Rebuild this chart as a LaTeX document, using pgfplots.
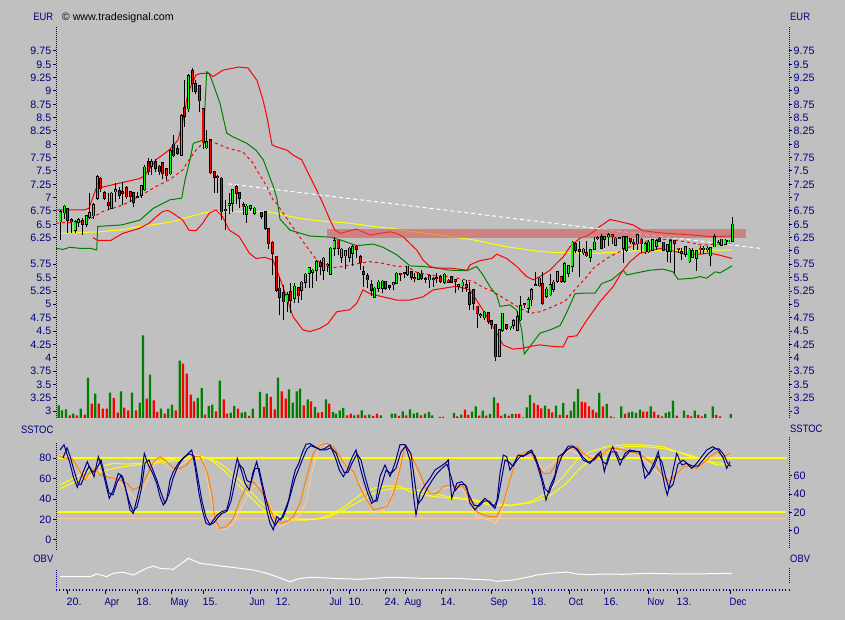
\documentclass[border=0pt]{standalone}
\usepackage{pgfplots}
\usepackage{pgfplotstable}
\pgfplotsset{compat=1.18}
\usepackage{fontspec}
\setmainfont{Liberation Sans}
\newfontfamily\nf[FakeStretch=0.88]{Liberation Sans}
\newcommand\fs{\fontsize{10.7}{12}\selectfont}
\definecolor{navy}{RGB}{0,0,128}
\definecolor{bg}{RGB}{192,192,192}
\definecolor{clime}{RGB}{0,255,0}
\definecolor{dgreen}{RGB}{0,128,0}
\definecolor{pred}{RGB}{255,0,0}
\definecolor{dorange}{RGB}{255,128,0}
\definecolor{peach}{RGB}{255,200,150}
\definecolor{pinkzone}{RGB}{220,80,80}
\definecolor{yel}{RGB}{255,255,0}

\pgfplotstableread{
x o h l c
60 6.55 6.76 6.20 6.74
64.3 6.72 6.86 6.60 6.84
75 6.39 6.59 6.33 6.55
78.3 6.54 6.62 6.45 6.59
86.3 6.50 6.68 6.45 6.66
89.3 6.64 7.09 6.60 6.72
93.3 6.66 6.90 6.60 6.87
97.3 6.99 7.42 6.96 7.39
111.3 6.80 7.10 6.78 7.08
115.3 7.11 7.27 6.92 7.15
141.3 7.05 7.24 7.00 7.22
144.3 7.15 7.62 7.12 7.57
151.7 7.59 7.72 7.43 7.67
170.3 7.45 7.92 7.42 7.88
181.3 7.80 8.57 7.78 8.53
188.3 8.67 9.32 8.60 9.28
206.3 7.94 8.26 7.92 8.04
229 6.86 7.08 6.70 6.89
232.7 6.90 7.17 6.74 7.15
246.3 6.69 6.89 6.52 6.84
250.3 6.80 6.87 6.75 6.85
254.3 6.71 6.82 6.68 6.80
287 5.05 5.24 4.86 5.18
294.3 5.11 5.40 5.02 5.34
301.3 5.27 5.43 5.08 5.41
305.3 5.41 5.58 5.30 5.56
309 5.58 5.69 5.31 5.68
312.7 5.60 5.67 5.30 5.64
316.3 5.64 5.83 5.43 5.80
323.3 5.64 5.89 5.46 5.86
330.3 5.56 6.07 5.55 6.05
334 6.05 6.27 5.90 6.19
341.3 5.89 6.05 5.77 6.03
345.3 5.91 6.01 5.66 6.00
349.3 5.89 6.07 5.80 6.05
352.7 5.96 6.11 5.72 6.08
374.3 5.14 5.33 5.11 5.30
378.3 5.30 5.46 5.24 5.41
382.3 5.30 5.46 5.22 5.43
393.3 5.38 5.42 5.27 5.40
396.7 5.40 5.60 5.38 5.58
407.3 5.56 5.72 5.53 5.71
418.3 5.47 5.61 5.46 5.58
429.3 5.46 5.55 5.30 5.53
444.3 5.41 5.59 5.38 5.56
458.3 5.34 5.38 5.26 5.37
462 5.35 5.46 5.24 5.41
480.7 4.79 4.84 4.74 4.80
484.3 4.75 4.87 4.71 4.85
499.3 4.03 4.53 4.02 4.52
502.3 4.52 4.84 4.49 4.83
510 4.56 4.60 4.51 4.59
513.3 4.61 4.72 4.53 4.69
517.3 4.52 4.88 4.51 4.76
520.3 4.71 5.16 4.69 4.97
528 4.93 5.14 4.83 5.09
531.3 5.09 5.30 4.96 5.27
539.3 5.35 5.51 5.33 5.49
546.3 5.16 5.32 5.11 5.28
550 5.18 5.57 5.15 5.36
553.7 5.28 5.46 5.24 5.41
557.3 5.43 5.63 5.40 5.61
564.7 5.43 5.80 5.40 5.76
568.3 5.59 5.74 5.52 5.72
572 5.71 6.18 5.60 6.16
583.3 5.97 6.06 5.93 6.03
590.3 5.89 6.03 5.80 6.02
594.3 6.03 6.26 6.02 6.16
597.7 6.23 6.28 6.21 6.25
604.7 6.22 6.28 6.05 6.26
608.3 6.27 6.33 6.09 6.30
615.3 6.11 6.27 6.09 6.24
623.3 6.05 6.28 5.77 6.26
626.7 6.01 6.27 5.99 6.26
637.3 6.14 6.31 6.01 6.30
645 5.99 6.17 5.94 6.13
648.7 5.99 6.21 5.96 6.16
652.3 6.02 6.22 6.01 6.21
656.3 6.09 6.22 6.02 6.19
667.3 6.00 6.14 5.80 6.11
670.3 6.00 6.19 5.77 6.19
681.7 5.96 6.05 5.83 5.99
685.3 5.94 6.09 5.88 6.08
689 5.80 6.05 5.78 6.03
692.7 5.89 6.05 5.86 6.00
696.3 5.86 6.02 5.63 6.00
707.3 6.03 6.10 5.98 6.05
710.7 5.91 6.08 5.72 6.06
714.3 6.08 6.32 6.07 6.27
718 6.13 6.20 6.11 6.15
721.3 6.11 6.23 6.10 6.22
725 6.13 6.22 6.12 6.20
728.7 6.19 6.21 6.17 6.20
732.3 6.19 6.64 6.17 6.50
}\upc

\pgfplotstableread{
x o h l c
67.7 6.79 6.80 6.34 6.58
71.3 6.59 6.61 6.34 6.55
82.3 6.56 6.61 6.30 6.50
100.3 7.36 7.38 7.10 7.17
104.3 7.09 7.12 6.95 6.99
108.3 6.91 7.08 6.77 6.86
119.3 7.13 7.20 6.98 7.05
122.7 7.11 7.30 6.86 7.09
126.3 7.19 7.22 6.98 7.02
130.3 7.11 7.13 6.92 7.02
133.7 7.09 7.11 6.83 6.92
137.3 7.02 7.11 7.00 7.00
148.3 7.67 7.74 7.42 7.49
155.3 7.67 7.72 7.49 7.55
159.3 7.59 7.62 7.42 7.49
162.7 7.65 7.66 7.35 7.45
166.3 7.54 7.55 7.33 7.41
173.3 8.00 8.17 7.77 7.79
177.3 7.91 7.99 7.80 7.83
184.7 8.69 9.20 8.33 8.53
192.3 9.38 9.44 8.99 9.14
195.3 9.14 9.20 8.95 9.00
199.3 9.09 9.11 8.61 8.82
203 8.66 8.68 7.92 8.03
210.3 8.09 8.10 7.45 7.47
214.3 7.49 7.49 7.09 7.39
217.7 7.40 7.42 7.08 7.38
221.7 7.36 7.38 6.59 6.74
225.3 6.78 6.95 6.39 6.76
236.3 7.20 7.24 6.89 7.08
239.7 7.09 7.11 6.80 6.99
243 6.86 6.92 6.67 6.83
261.7 6.72 6.74 6.60 6.65
265.3 6.74 6.75 6.40 6.43
268.3 6.41 6.43 6.03 6.14
272.3 6.16 6.18 5.55 5.96
276.3 5.90 5.90 5.24 5.27
279.3 5.30 5.52 4.80 5.13
283.3 5.22 5.36 4.71 5.05
290.7 5.24 5.40 4.83 5.08
298.3 5.31 5.31 5.02 5.16
320.3 5.78 5.84 5.55 5.72
327 5.75 5.78 5.60 5.73
338 6.20 6.21 5.93 6.05
356.7 6.09 6.11 5.86 6.03
360.3 5.89 5.92 5.64 5.78
363.7 5.61 5.72 5.33 5.56
367.3 5.53 5.58 5.30 5.46
371.3 5.36 5.46 5.15 5.27
385.3 5.43 5.44 5.27 5.30
389.3 5.35 5.36 5.27 5.32
400.7 5.58 5.58 5.44 5.57
404.3 5.59 5.60 5.50 5.58
411.3 5.61 5.61 5.46 5.51
414.7 5.50 5.59 5.41 5.48
421.7 5.56 5.64 5.46 5.49
425.7 5.48 5.52 5.40 5.47
433.3 5.49 5.52 5.33 5.47
436.7 5.50 5.58 5.40 5.49
440.3 5.52 5.55 5.40 5.43
448 5.45 5.47 5.40 5.42
451.7 5.51 5.51 5.40 5.42
455 5.46 5.47 5.22 5.44
466 5.37 5.46 5.24 5.32
469.3 5.22 5.42 4.89 5.01
473.3 5.27 5.28 4.89 5.02
477 4.96 4.97 4.55 4.83
488.3 4.84 4.86 4.63 4.69
491.7 4.69 4.69 4.53 4.63
495.3 4.62 4.63 3.94 4.02
506.3 4.61 4.64 4.52 4.55
524.3 5.01 5.03 4.93 5.00
535.3 5.36 5.61 5.34 5.35
542.3 5.39 5.61 4.99 5.02
561 5.52 5.52 5.40 5.43
575.3 6.14 6.17 5.96 6.02
579.3 6.02 6.18 5.51 6.00
586.7 5.97 6.18 5.89 5.91
601.3 6.26 6.31 6.03 6.05
612 6.30 6.32 6.14 6.27
619.3 6.25 6.27 6.23 6.24
630.3 6.24 6.24 6.14 6.19
633.7 6.16 6.22 6.01 6.14
641 6.22 6.24 5.96 6.14
659.7 6.24 6.26 6.17 6.19
663.3 6.16 6.17 6.00 6.02
674.3 6.19 6.20 5.59 6.14
678 6.05 6.05 5.96 6.03
700 6.05 6.09 5.94 6.03
703.7 6.05 6.09 5.94 6.03
}\dnc

\pgfplotstableread{
x v
58.7 12.7
62 7.7
66 8.7
73.3 4.3
80.7 9.3
88 40.3
95.3 24.3
110 25.3
121 26.7
132 25.3
139.7 15.3
143 82.7
150 43.3
161 9.3
168.3 9.3
172 13.3
179.7 57.3
197.7 20
201.7 30
208.7 12
212.3 13.3
219.7 37.3
230.7 5.3
234.3 12
241.7 5.3
245.3 6
252.7 9.3
260 26
266.7 24.3
278 40.3
289 28.7
292.7 15.3
296.7 26.7
300 29.3
307.7 18.7
315 11
326 18.7
333 6
336 4.3
339.7 7.7
343.3 10
354.3 2.7
361.7 7.7
369.3 3.3
380.7 2.7
391.7 4.3
395.3 4.3
402.7 6.7
410 8.7
413.7 4.3
417.3 5.3
425 4.3
429 6
432.3 2.7
454 5
461.3 3.3
472 6.3
475.7 11.7
482.7 7.3
490 4
494 20.7
505 4
512.3 4
523.3 0.7
526.7 10.7
530 23
545 12.3
556 12.3
563.3 15
570.7 7.3
574.3 16.3
578 29
599.3 25
606.7 14
621.3 11.7
628.7 5.7
632.3 6.3
636 5
640 8.3
650.7 11.7
665.7 5
669.3 6.3
673 17.3
684 7.3
694.7 7.3
705.3 4
712.7 11.7
730.7 4
}\vup

\pgfplotstableread{
x v
69.7 2.7
76.7 2.7
84.7 3.3
91.7 14.3
98.7 14.3
102.7 9.3
106.7 9.3
113.7 20
117.7 5.3
124.3 10.3
128.3 7.7
136 7.7
146.7 19.3
153.7 17.7
157.3 6
164.7 4.3
175.7 7.7
183 54.3
186.7 44.3
190.7 23.3
194 16.7
205 3.3
216 6.7
223.7 18.7
227 4.3
238 9.3
249 2
264 11
270.7 21
274.7 8.7
281.7 26.7
285.7 19.3
303.7 12.7
311 16.7
318.3 5.3
322 6
329.3 14.3
347.3 2.7
350.7 4.3
358.3 3.3
365.3 2.7
373.3 2
377 4.3
399 2
406.3 2.7
421 2.7
440 1
443.3 1
457.3 1.7
465 8.3
468.3 3
479.3 2.3
486.3 2.3
497.7 15
501.3 2.3
508.7 2.3
516 4
519.3 4
534 15
537.7 13
541.3 9.7
548.7 9
552.3 5.7
559.7 3
567 3
581.7 16.3
585.3 15.7
589 11.7
592.7 8.3
596.3 5.7
603 11.7
610.7 1.7
614 0.7
625 4
643.3 6.3
647 6.3
654.3 6.3
658.3 3
662 1.7
676.7 2.3
687.7 3
691 1.7
698.3 3
701.7 1.7
716.3 3
720 1.7
}\vdn

\pgfplotsset{
  panel/.style={scale only axis, width=733pt, xmin=56, xmax=789, anchor=south west,
    axis x line=none, xtick=\empty,
    y axis line style={draw=navy, line width=1pt, dash pattern=on 1pt off 1pt, -},
    major tick length=3pt, tick align=outside,
    ytick style={draw=navy, line width=1pt, solid},
    yticklabel style={font=\fs, text=navy, inner xsep=1.5pt},
    /pgf/number format/assume math mode=true,
    minor tick num=0},
  wick/.style={draw=none, mark=none, forget plot,
    error bars/.cd, y dir=both, y explicit, error mark=none,
    error bar style={draw=black, line width=0.9pt, solid}},
  body/.style 2 args={draw=none, mark=none, forget plot,
    error bars/.cd, y dir=both, y explicit, error mark=none,
    error bar style={draw=#1, line width=#2, solid}},
}

\begin{document}
\begin{tikzpicture}
\fill[bg] (0,0) rectangle (845pt,620pt);

% volume
\begin{axis}[panel, hide axis, at={(56pt,202pt)}, height=391pt, ymin=0, ymax=391]
\addplot[ybar, bar width=2.3pt, bar shift=0pt, fill=dgreen, draw=none] table[x=x,y=v] {\vup};
\addplot[ybar, bar width=2.3pt, bar shift=0pt, fill=pred, draw=none] table[x=x,y=v] {\vdn};
\end{axis}

% price (left scale)
\begin{axis}[panel, at={(56pt,202pt)}, height=391pt, ymin=2.869, ymax=10.2,
  axis y line*=left,
  ytick={3,3.25,3.5,3.75,4,4.25,4.5,4.75,5,5.25,5.5,5.75,6.25,6.5,6.75,7,7.25,7.5,7.75,8,8.25,8.5,8.75,9,9.25,9.5,9.75}]
\addplot[yel, line width=1pt] coordinates {(59,6.33)(99,6.36)(122.7,6.40)(139,6.46)(156,6.50)(172.7,6.55)(189,6.64)(202.7,6.71)(212.7,6.74)(256,6.74)(266.7,6.74)(283,6.68)(300,6.61)(316.7,6.57)(350,6.52)(383,6.44)(390,6.43)(410,6.37)(440,6.30)(473,6.21)(506.7,6.08)(540,5.99)(556.7,5.97)(600,5.96)(631.7,6.00)(732,6.02)};
\addplot[dgreen, line width=1pt] coordinates {(56,6.05)(63,6.03)(70,6.07)(80,6.05)(90,6.05)(96.7,6.02)(97.7,6.46)(122,6.49)(140,6.58)(153.3,6.80)(170,6.96)(181.7,6.99)(185,7.33)(190,7.71)(193.3,8.02)(203.3,8.08)(206.7,9.36)(209,9.33)(211.7,9.21)(220,8.77)(226.7,8.21)(233,8.14)(246.7,8.02)(256,7.89)(263.3,7.71)(273.3,7.21)(276.7,7.0)(280,6.6)(290,6.39)(310,6.28)(330,6.26)(340,6.21)(356.7,6.10)(373,6.13)(383,6.07)(396.7,5.93)(410,5.72)(423,5.71)(436.7,5.68)(450,5.64)(467,5.63)(476.7,5.71)(483,5.55)(490,5.33)(496.7,5.17)(500,4.96)(503,4.97)(510,4.99)(516.7,4.89)(521.7,4.52)(524.3,4.07)(530,4.21)(540,4.46)(550,4.52)(560,4.60)(567,4.86)(575,5.2)(585,5.21)(595,5.21)(601.7,5.39)(611.7,5.46)(623.3,5.64)(626.7,5.55)(636.7,5.59)(650,5.64)(663,5.66)(673,5.61)(678,5.47)(693,5.49)(700,5.52)(706.7,5.49)(715,5.61)(720,5.59)(732,5.72)};
\addplot[pred, line width=1pt] coordinates {(56,6.77)(84,6.77)(89,6.80)(96,7.17)(103,7.20)(140,7.36)(145,7.42)(156,7.71)(169,7.89)(178,8.08)(183,8.45)(188,8.96)(196,9.30)(201,9.33)(209,9.33)(213,9.27)(223,9.39)(239,9.45)(248,9.43)(257,9.20)(263,8.83)(267,8.51)(272,7.99)(277,7.95)(287,7.89)(293,7.80)(301.7,7.71)(310,7.39)(316.7,7.14)(323,6.89)(330,6.58)(335,6.39)(340,6.33)(350,6.38)(356.7,6.41)(363,6.36)(370,6.30)(376.7,6.32)(383,6.34)(390,6.36)(396.7,6.33)(403,6.27)(410,6.14)(416.7,6.02)(423,5.83)(430,5.71)(436.7,5.68)(450,5.68)(467,5.64)(470,5.74)(480,5.82)(491.7,5.86)(496.7,5.94)(506.7,5.86)(516.7,5.71)(526.7,5.52)(533.3,5.46)(540,5.52)(550,5.64)(556.7,5.77)(563.3,5.89)(570,6.08)(580,6.24)(586.7,6.28)(593.3,6.36)(600,6.46)(610,6.59)(620,6.55)(633,6.49)(643,6.38)(660,6.34)(677,6.32)(693,6.30)(710,6.27)(732,6.28)};
\addplot[pred, line width=1pt] coordinates {(93,6.25)(97.7,6.20)(111,6.20)(122.7,6.33)(139,6.42)(149,6.52)(156,6.64)(162.7,6.74)(167.7,6.76)(172.7,6.71)(182.7,6.58)(189,6.39)(196,6.38)(202.7,6.52)(209.3,6.71)(216,6.77)(222.7,6.64)(229.3,6.39)(239.3,6.27)(249.3,5.96)(256,5.86)(265,5.88)(273,5.83)(283,5.33)(293,4.77)(303,4.52)(310,4.49)(320,4.55)(328,4.64)(336.7,4.86)(350,4.90)(356.7,5.02)(363,5.27)(370,5.20)(383,5.14)(396.7,5.08)(410,5.08)(423,5.14)(433,5.27)(443,5.30)(456.7,5.34)(470,5.27)(483,4.89)(496.7,4.46)(503,4.24)(513,4.16)(523,4.18)(530,4.21)(540,4.24)(553,4.21)(563,4.20)(568,4.39)(576.7,4.41)(586.7,4.70)(600,5.05)(613,5.33)(623,5.64)(630,5.80)(640,5.96)(650,6.00)(660,6.05)(673,6.00)(687,5.94)(700,5.94)(710,5.96)(720,5.92)(732,5.86)};
\addplot[pred, line width=1pt, dash pattern=on 3pt off 3pt] coordinates {(56,6.52)(63,6.53)(76,6.53)(89,6.59)(102.7,6.74)(122.7,6.86)(139,7.02)(156,7.21)(169,7.33)(182.7,7.52)(189,7.71)(196,7.89)(202.7,8.02)(209,8.05)(216,8.02)(229,7.92)(242.7,7.86)(253,7.65)(256.7,7.52)(263,7.33)(266.7,7.21)(273,6.96)(276.7,6.89)(290,6.52)(306.7,6.08)(316.7,5.83)(330,5.68)(343,5.71)(356.7,5.76)(370,5.80)(383,5.77)(396.7,5.71)(406.7,5.71)(416.7,5.60)(436.7,5.53)(450,5.52)(463,5.47)(473,5.43)(483,5.32)(493,5.24)(506.7,5.08)(520,4.93)(530,4.83)(540,4.86)(553,4.96)(565,5.06)(578,5.34)(587,5.52)(593,5.67)(600,5.77)(606.7,5.86)(623,6.02)(637,6.14)(650,6.20)(670,6.22)(687,6.17)(703,6.11)(720,6.14)(732,6.13)};
\addplot[white, line width=1pt, dash pattern=on 4pt off 3pt] coordinates {(228,7.26)(760,6.05)};
\addplot[draw=none, fill=pinkzone, fill opacity=0.55] coordinates {(327,6.25)(746,6.25)(746,6.41)(327,6.41)} -- cycle;
\addplot[wick] table[x=x, y expr={(\thisrow{h}+\thisrow{l})/2}, y error expr={(\thisrow{h}-\thisrow{l})/2}] {\upc};
\addplot[wick] table[x=x, y expr={(\thisrow{h}+\thisrow{l})/2}, y error expr={(\thisrow{h}-\thisrow{l})/2}] {\dnc};
\addplot[body={black}{3pt}] table[x=x, y expr={(\thisrow{o}+\thisrow{c})/2}, y error expr={abs(\thisrow{c}-\thisrow{o})/2+0.013}] {\upc};
\addplot[body={black}{3pt}] table[x=x, y expr={(\thisrow{o}+\thisrow{c})/2}, y error expr={abs(\thisrow{c}-\thisrow{o})/2+0.013}] {\dnc};
\addplot[body={clime}{1.3pt}] table[x=x, y expr={(\thisrow{o}+\thisrow{c})/2}, y error expr={abs(\thisrow{c}-\thisrow{o})/2}] {\upc};
\addplot[body={pred}{1.3pt}] table[x=x, y expr={(\thisrow{o}+\thisrow{c})/2}, y error expr={abs(\thisrow{c}-\thisrow{o})/2}] {\dnc};
\end{axis}

% price (right scale)
\begin{axis}[panel, at={(56pt,202pt)}, height=391pt, ymin=2.869, ymax=10.2,
  axis y line*=right,
  ytick={3,3.25,3.5,3.75,4,4.25,4.5,4.75,5,5.25,5.5,5.75,6,6.25,6.5,6.75,7,7.25,7.5,7.75,8,8.25,8.5,8.75,9,9.25,9.5,9.75}]
\addplot[draw=none] coordinates {(56,5)(789,5)};
\end{axis}

% SSTOC (left scale)
\begin{axis}[panel, at={(56pt,70pt)}, height=108pt, ymin=-9.756, ymax=95.61,
  axis y line*=left, ytick={0,20,40,60,80}]
\addplot[peach, line width=1pt] coordinates {(58,20.5)(786,20.5)};
\addplot[yel, line width=2pt] coordinates {(58,80)(786,80)};
\addplot[yel, line width=2pt] coordinates {(58,27)(786,27)};
\addplot[yel, line width=1pt] coordinates {(60,53.7)(73.3,60.2)(86.7,66.7)(100,71.5)(113.3,74.8)(126.7,74.1)(140,74.8)(153.3,76.4)(166.7,78)(180,79.7)(193.3,82.9)(203.3,81.3)(213.3,76.4)(223.3,68.3)(233.3,58.5)(246.7,45.5)(260,32.5)(270,24.4)(280,21.1)(293.3,19.5)(306.7,19.5)(320,21.1)(333.3,26)(346.7,34.1)(360,43.9)(373.3,50.4)(386.7,52.7)(400,52.3)(410,47.2)(430,42.9)(450,40.7)(470,39)(490,34.1)(510,33.2)(530,37.4)(546.7,45.5)(563.3,61.8)(576.7,78)(590,86.2)(606.7,91)(623.3,92.7)(643.3,92.7)(663.3,91)(676.7,86.2)(690,82.9)(703.3,78)(716.7,73.2)(730,73.2)};
\addplot[yel, line width=1pt] coordinates {(60,50)(75,57)(90,63)(105,68)(120,71)(135,73)(150,74.5)(165,76)(180,78)(195,80)(208,80)(218,76)(228,69)(240,58)(252,46)(264,34)(276,25)(288,21)(300,20)(315,20)(330,23)(345,30)(360,38)(375,46)(390,50)(410,50)(430,46)(450,42)(470,40)(490,36)(510,34)(530,36)(548,42)(565,54)(580,70)(595,82)(610,88)(625,91)(645,91)(665,89)(680,85)(695,80)(710,76)(730,74)};
\addplot[peach, line width=1pt] coordinates {(60,83)(66.7,81.3)(76.7,71.5)(83.3,58.5)(90,60.2)(100,68.3)(110,61.8)(120,55.3)(130,45.5)(136.7,39)(143.3,48.8)(150,65)(156.7,78)(163.3,74.8)(173.3,68.3)(183.3,74.8)(193.3,84.6)(203.3,78)(210,45.5)(216.7,13)(223.3,9.8)(233.3,16.3)(243.3,35.8)(253.3,52)(260,53.7)(266.7,42.3)(273.3,26)(280,13)(286.7,16.3)(300,24.4)(306.7,39)(313.3,71.5)(320,94.3)(330,91)(340,81.3)(350,68.3)(360,55.3)(366.7,39)(373.3,26)(383.3,29.3)(390,39)(396,58)(401,78)(406.7,92)(416.7,65)(426.7,42.3)(436.7,48.8)(450,52)(463.3,48.8)(476.7,22.8)(490,19.5)(495,16.3)(500,22.8)(506.7,45.5)(516.7,81.3)(530,86.2)(543.3,68.3)(556.7,78)(570,87.8)(583.3,81.3)(596.7,83)(610,86.2)(623.3,87.8)(636.7,84.6)(650,73.2)(663.3,60.2)(673.3,65)(683.3,71.5)(696.7,69.9)(710,78)(720,84.6)(730,83)};
\addplot[dorange, line width=1pt] coordinates {(60,81.3)(66.7,79.7)(71.7,79.7)(75,74.8)(80,66.7)(85,58.5)(90,66.7)(95,69.9)(100,63.4)(106.7,61.8)(113.3,60.2)(120,58.5)(126.7,55.3)(133.3,48.8)(140,52)(146.7,61.8)(153.3,76.4)(160,81.3)(166.7,76.4)(173.3,69.9)(180,69.9)(186.7,73.2)(193.3,81.3)(200,81.3)(205,71.5)(208.3,61.8)(211.7,45.5)(215,19.5)(220,11.4)(226.7,13)(233.3,21.1)(240,39)(246.7,52)(253.3,56.9)(260,48.8)(266.7,39)(273.3,22.8)(280,16.3)(286.7,17.9)(293.3,22.8)(300,35.8)(306.7,61.8)(313.3,84.6)(320,92.7)(326.7,94.3)(333.3,91)(340,81.3)(346.7,71.5)(353.3,66.7)(360,52)(366.7,39)(373.3,29.3)(380,30.9)(386.7,32.5)(393.3,45)(400,70)(405,92)(410,84.6)(415,74.8)(420,65)(425,52)(430,45.5)(436.7,45.5)(443.3,52)(450,53.7)(456.7,52)(463.3,52)(470,39)(476.7,27.6)(483.3,24.4)(490,22.8)(496.7,22.8)(503.3,35.8)(510,58.5)(516.7,81.3)(523.3,84.6)(530,86.2)(536.7,74.8)(543.3,65)(550,65)(556.7,74.8)(563.3,84.6)(570,89.4)(576.7,91)(583.3,84.6)(590,79.7)(596.7,79.7)(603.3,84.6)(610,89.4)(616.7,89.4)(623.3,87.8)(630,86.2)(636.7,84.6)(643.3,81.3)(650,76.4)(656.7,71.5)(663.3,61.8)(670,56.9)(676.7,65)(683.3,71.5)(690,71.5)(696.7,69.9)(703.3,74.8)(710,81.3)(716.7,86.2)(723.3,81.3)(730,84.6)};
\addplot[navy, line width=1pt] coordinates {(63,80)(67,90)(70,82)(74,68)(78,55)(81,54)(85,64)(89,72)(93,66)(97,70)(101,78)(105,62)(109,46)(113,44)(117,56)(121,63)(125,52)(129,38)(133,28)(137,32)(141,48)(145,75)(149,78)(153,68)(157,58)(161,46)(165,36)(169,45)(173,60)(177,70)(181,77)(185,81)(189,84)(194,82)(198,60)(202,38)(206,22)(210,15)(214,17)(218,22)(222,26)(227,28)(231,38)(235,56)(239,74)(243,70)(247,58)(251,56)(255,70)(259,70)(263,52)(267,36)(271,22)(275,14)(279,20)(283,22)(287,32)(291,46)(295,60)(299,70)(303,80)(307,89)(311,92)(316,90)(321,88)(326,88)(331,90)(336,85)(340,74)(344,66)(348,66)(352,75)(357,84)(361,78)(365,62)(369,48)(373,38)(377,38)(381,52)(386,68)(391,65)(396,70)(401,86)(406,92)(411,84)(415,55)(418,35)(422,40)(427,50)(432,58)(437,65)(442,70)(447,74)(451,62)(455,48)(460,54)(465,54)(469,44)(474,34)(479,33)(484,38)(489,38)(494,33)(498,40)(502,62)(505,78)(509,76)(513,72)(517,78)(521,82)(526,83)(531,86)(535,82)(540,68)(545,50)(549,46)(554,58)(558,72)(562,82)(567,88)(572,91)(577,89)(582,82)(588,76)(594,78)(599,84)(603,76)(607,74)(611,86)(616,86)(620,78)(624,80)(629,86)(634,87)(639,86)(644,72)(649,64)(654,72)(658,82)(662,76)(666,60)(669,50)(673,54)(678,74)(683,78)(688,74)(693,72)(698,72)(703,78)(708,84)(714,89)(719,89)(724,83)(728,74)(731,72)};
\addplot[navy, line width=1pt] coordinates {(60,87.8)(64,93)(66.7,84.6)(70,74.8)(73.3,61.8)(77.3,51.4)(80,58.5)(83.3,66.7)(87.3,76.4)(90,69.9)(94,61.8)(98.3,81.3)(101.7,71.5)(106,53.7)(109.3,40.7)(113.3,48.8)(118.3,65)(122.7,61.8)(126.7,45.5)(130,29.3)(133.3,26)(136.7,39)(140.7,55.3)(144.3,84.6)(148.3,73.2)(152.7,65)(156.7,55.3)(160,42.3)(163.3,34.1)(166.7,39)(170,58.5)(173.3,66.7)(178.3,74.8)(182.7,79.7)(186.7,83)(191.7,87.8)(195,71.5)(199,45.5)(202.3,29.3)(206,16.3)(210,14.6)(213.3,19.5)(217.3,24.4)(221.7,27.6)(226.7,29.3)(230,42.3)(233.3,61.8)(237.3,79.7)(241.7,66.7)(245,55.3)(249.3,48.8)(252.7,65)(256.7,76.4)(260.7,58.5)(264.3,42.3)(266.7,29.3)(270,16.3)(273.3,9.8)(276.7,22.8)(280.7,19.5)(285,29.3)(288.7,39)(292,55.3)(295.3,68.3)(298.7,74.8)(302.7,86.2)(306,93.5)(310,94)(315,91)(320,87.8)(325,89.4)(330,92.7)(335,81.3)(339.3,68.3)(343.3,61.8)(347.3,68.3)(351.7,79.7)(356,87.8)(360,71.5)(364,56.9)(367.7,45.5)(371.7,35.8)(376,39)(380,61.8)(385,73.2)(390,62)(395,75)(400,93)(405,93)(410,78)(414,39)(416,24.4)(420,45.5)(425,53.7)(430,60.2)(435,68.3)(440,71.5)(445,74.8)(448.3,78)(451.7,40.7)(456.7,55.3)(461.7,56.9)(466.7,52)(470,35.8)(475,29.3)(480,35.8)(485,40.7)(490,35.8)(495,30.9)(496.7,35.8)(500,65)(503.3,82.9)(506.7,81.3)(510,68.3)(514,74.8)(518.3,82.9)(523.3,81.3)(528.3,86.2)(531.7,87.8)(536.7,74.8)(541.7,58.5)(546,39)(550,52)(555,63.4)(558.3,81.3)(563.3,84.6)(568.3,91.7)(573.3,91.7)(578.3,86.2)(583.3,78)(590,74.8)(596.7,82.9)(600.7,86.2)(604.3,66.7)(608.3,81.3)(612.7,91)(616.7,81.3)(620,73.2)(625,84.6)(630,87.8)(635,86.2)(640,86.2)(645,60.2)(650,66.7)(655,78)(658.3,86.2)(661.7,68.3)(665,52)(667.3,43.9)(671.7,61.8)(676.7,84.6)(681.7,73.2)(686.7,74.8)(691.7,69.9)(696.7,74.8)(701.7,81.3)(706.7,87.8)(712.7,91)(718.3,87.8)(723.3,79.7)(726.7,69.9)(730,76.4)};
\end{axis}

% SSTOC (right scale)
\begin{axis}[panel, at={(56pt,72pt)}, height=111pt, ymin=-18.54, ymax=102.5,
  axis y line*=right, ytick={0,20,40,60}]
\addplot[draw=none] coordinates {(56,50)(789,50)};
\end{axis}

% OBV
\begin{axis}[panel, at={(56pt,33pt)}, height=17pt, ymin=13, ymax=30, clip=false,
  axis y line*=left, ytick=\empty]
\addplot[white, line width=1pt] coordinates {(60,23.3)(90,23.3)(96.7,26)(106.7,23.3)(113.3,26.7)(123.3,27.7)(133.3,25)(140,28.3)(146.7,31.7)(153.3,34)(160,31.7)(173.3,30.7)(181.7,36.7)(188.3,41.7)(200,36.7)(213.3,35)(226.7,33.3)(240,31.7)(253.3,30)(266.7,26.7)(276.7,23.3)(290,18.3)(300,21.7)(313.3,22.7)(333.3,21.7)(360,20.7)(390,22.7)(423.3,21.7)(456.7,21.7)(473.3,20.7)(490,20)(496.7,18.7)(513.3,20)(530,23.3)(536.7,25)(550,26.7)(566.7,28)(576.7,26)(590,25.3)(603.3,26)(623.3,25.7)(650,26.7)(676.7,26)(690,26)(710,26.3)(731.7,26.7)};
\end{axis}
\begin{axis}[panel, at={(56pt,37pt)}, height=16pt, ymin=0, ymax=1,
  axis y line*=right, ytick=\empty]
\addplot[draw=none] coordinates {(56,0.5)(789,0.5)};
\end{axis}

% time axis
\begin{axis}[scale only axis, width=733pt, height=1pt, xmin=56, xmax=789, ymin=0, ymax=1,
  at={(56pt,29.5pt)}, anchor=south west,
  axis y line=none, axis x line*=bottom,
  x axis line style={draw=navy, line width=2pt, dash pattern=on 1pt off 2.3pt, -},
  xtick={67,105,137,171,203,250,276,330,349,385,405,441,491,532,569,604,648,677,730},
  xticklabels={20.,{\nf Apr},18.,{\nf May},15.,{\nf Jun},12.,{\nf Jul},10.,24.,{\nf Aug},14.,{\nf Sep},18.,{\nf Oct},16.,{\nf Nov},13.,{\nf Dec}},
  xtick style={draw=navy, line width=1pt, solid}, major tick length=4pt, tick align=outside,
  xticklabel style={font=\fs, text=navy, anchor=north west, inner xsep=0pt, xshift=-0.5pt}]
\addplot[draw=none] coordinates {(56,0)(789,1)};
\end{axis}

\node[anchor=base east, text=navy, font=\fs\nf, inner sep=0pt] at (53.5pt,599.3pt) {EUR};
\node[anchor=base west, text=black, font=\fs, inner sep=0pt] at (61.7pt,599.3pt) {© www.tradesignal.com};
\node[anchor=base west, text=navy, font=\fs\nf, inner sep=0pt] at (790pt,599.3pt) {EUR};
\node[anchor=base east, text=navy, font=\fs\nf, inner sep=0pt] at (53.5pt,186.7pt) {SSTOC};
\node[anchor=base west, text=navy, font=\fs\nf, inner sep=0pt] at (790pt,187pt) {SSTOC};
\node[anchor=base east, text=navy, font=\fs\nf, inner sep=0pt] at (53.5pt,57.3pt) {OBV};
\node[anchor=base west, text=navy, font=\fs\nf, inner sep=0pt] at (790pt,57.7pt) {OBV};

\pgfresetboundingbox
\path[use as bounding box] (0,0) rectangle (845pt,620pt);
\end{tikzpicture}
\end{document}
